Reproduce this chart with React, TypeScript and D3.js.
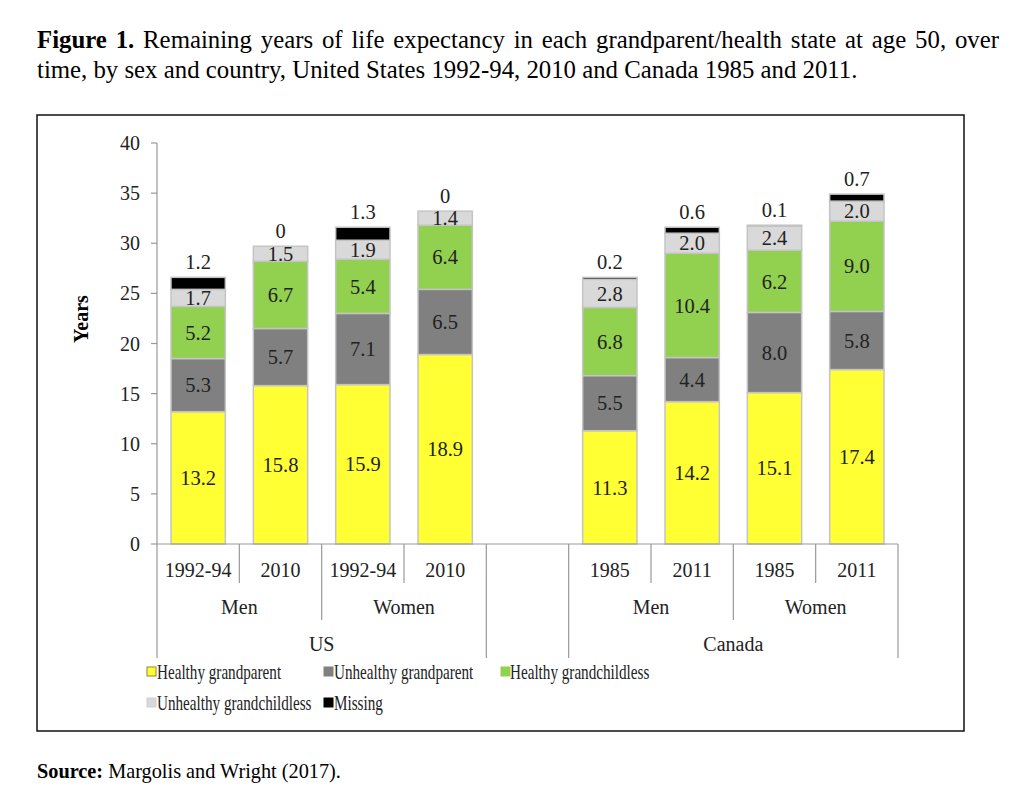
import React, { useLayoutEffect, useRef } from "react";
import * as d3 from "d3";

const categories = [
  "US|Men|1992-94", "US|Men|2010", "US|Women|1992-94", "US|Women|2010",
  "gap",
  "Canada|Men|1985", "Canada|Men|2011", "Canada|Women|1985", "Canada|Women|2011",
];
const seriesNames = [
  "Healthy grandparent", "Unhealthy grandparent", "Healthy grandchildless",
  "Unhealthy grandchildless", "Missing",
];
const healthyGrandparent = [13.2, 15.8, 15.9, 18.9, null, 11.3, 14.2, 15.1, 17.4];
const unhealthyGrandparent = [5.3, 5.7, 7.1, 6.5, null, 5.5, 4.4, 8.0, 5.8];
const healthyGrandchildless = [5.2, 6.7, 5.4, 6.4, null, 6.8, 10.4, 6.2, 9.0];
const unhealthyGrandchildless = [1.7, 1.5, 1.9, 1.4, null, 2.8, 2.0, 2.4, 2.0];
const missing = [1.2, 0, 1.3, 0, null, 0.2, 0.6, 0.1, 0.7];
const yTicks = [0, 5, 10, 15, 20, 25, 30, 35, 40];
const colors = ["#FFFF33", "#808080", "#92D050", "#D9D9D9", "#000000"];
const legendSwatchStroke = ["#8a8a30", "#808080", "#92D050", "#cfcfcf", "#000000"];

const allSeries = [healthyGrandparent, unhealthyGrandparent, healthyGrandchildless, unhealthyGrandchildless, missing];

const FONT = "'Liberation Serif', 'Times New Roman', serif";

export default function App() {
  const titleRef = useRef<SVGTextElement>(null);

  useLayoutEffect(() => {
    const el = titleRef.current;
    if (!el) return;
    el.setAttribute("word-spacing", "0");
    const len = el.getComputedTextLength();
    const text = el.textContent || "";
    const spaces = (text.match(/ /g) || []).length;
    const target = 962;
    if (spaces > 0) el.setAttribute("word-spacing", String((target - len) / spaces));
  }, []);

  const x0 = 157, x1 = 898;
  const x = d3.scaleBand<string>().domain(categories).range([x0, x1]).paddingInner(0.34).paddingOuter(0.17);
  const y = d3.scaleLinear().domain([0, 40]).range([544, 143]);

  const rows = categories.map((c, i) => {
    const r: any = { cat: c };
    seriesNames.forEach((s, k) => (r[s] = allSeries[k][i] ?? 0));
    return r;
  });
  const stack = d3.stack<any>().keys(seriesNames)(rows);

  const step = x.step();
  const boundaries = d3.range(categories.length + 1).map((i) => x0 + i * step);
  const levelOf = (i: number) => {
    if (i === 0 || i === 4 || i === 5 || i === 9) return 2;
    if (i === 2 || i === 7) return 1;
    return 0;
  };
  const lineBottom = [583, 620, 658];
  const yearLabels = categories.map((c) => (c === "gap" ? "" : c.split("|")[2]));
  const sexGroups = [
    { label: "Men", from: 0, to: 2 }, { label: "Women", from: 2, to: 4 },
    { label: "Men", from: 5, to: 7 }, { label: "Women", from: 7, to: 9 },
  ];
  const countryGroups = [{ label: "US", from: 0, to: 4 }, { label: "Canada", from: 5, to: 9 }];

  const legendItems = [
    { k: 0, sx: 147, sy: 672, tx: 157 },
    { k: 1, sx: 324, sy: 672, tx: 334 },
    { k: 2, sx: 501, sy: 672, tx: 510 },
    { k: 3, sx: 147, sy: 703, tx: 157 },
    { k: 4, sx: 324, sy: 703, tx: 334 },
  ];

  return (
    <svg width={1024} height={806} style={{ position: "absolute", left: 0, top: 0, background: "#fff" }} fontFamily={FONT}>
      <rect x={0} y={0} width={1024} height={806} fill="#fff" />
      {/* Title */}
      <text ref={titleRef} x={37} y={48} fontSize={24.8} fill="#000">
        <tspan fontWeight="bold">Figure 1.</tspan> Remaining years of life expectancy in each grandparent/health state at age 50, over
      </text>
      <text x={37} y={78} fontSize={24.8} fill="#000">
        time, by sex and country, United States 1992-94, 2010 and Canada 1985 and 2011.
      </text>

      {/* Frame */}
      <rect x={37} y={115} width={927} height={616} fill="none" stroke="#111" strokeWidth={1.5} />

      {/* Y axis */}
      <line x1={x0} x2={x0} y1={y(40)} y2={y(0)} stroke="#999" strokeWidth={1.2} />
      {yTicks.map((t) => (
        <g key={t}>
          <line x1={x0 - 6} x2={x0} y1={y(t)} y2={y(t)} stroke="#999" strokeWidth={1.2} />
          <text x={140} y={y(t)} dy="0.35em" textAnchor="end" fontSize={20} fill="#222">{t}</text>
        </g>
      ))}
      <text transform={`translate(88,319) rotate(-90)`} textAnchor="middle" fontSize={20} fontWeight="bold" fill="#000">Years</text>

      {/* Bars */}
      {stack.map((layer, k) => (
        <g key={seriesNames[k]}>
          {layer.map((d, i) => {
            if (categories[i] === "gap") return null;
            const v = allSeries[k][i] as number;
            const bx = x(categories[i])!;
            const top = y(d[1]);
            const bot = y(d[0]);
            return (
              <rect key={i} x={bx} y={top} width={x.bandwidth()} height={Math.max(0, bot - top)}
                fill={colors[k]} stroke="#c4c4c4" strokeWidth={v > 0 ? 1.5 : 0} />
            );
          })}
        </g>
      ))}
      {/* Labels */}
      {stack.map((layer, k) => (
        <g key={"l" + k}>
          {layer.map((d, i) => {
            if (categories[i] === "gap") return null;
            const v = allSeries[k][i] as number;
            const cx = x(categories[i])! + x.bandwidth() / 2;
            const label = v === 0 ? "0" : v.toFixed(1);
            if (k === 4) {
              return (
                <text key={i} x={cx} y={y(d[1]) - 8} textAnchor="middle" fontSize={20.5} fill="#222">{label}</text>
              );
            }
            return (
              <text key={i} x={cx} y={y((d[0] + d[1]) / 2)} dy="0.35em" textAnchor="middle" fontSize={20.5} fill="#222">{label}</text>
            );
          })}
        </g>
      ))}

      {/* Category axis */}
      <line x1={x0} x2={x1} y1={y(0)} y2={y(0)} stroke="#999" strokeWidth={1.2} />
      {boundaries.map((bx, i) => (
        <line key={i} x1={bx} x2={bx} y1={y(0)} y2={lineBottom[levelOf(i)]} stroke="#999" strokeWidth={1.2} />
      ))}
      {categories.map((c, i) => (
        <text key={c} x={x(c)! + x.bandwidth() / 2} y={577} textAnchor="middle" fontSize={20} fill="#222">{yearLabels[i]}</text>
      ))}
      {sexGroups.map((g, i) => (
        <text key={i} x={(boundaries[g.from] + boundaries[g.to]) / 2} y={614} textAnchor="middle" fontSize={20} fill="#222">{g.label}</text>
      ))}
      {countryGroups.map((g, i) => (
        <text key={i} x={(boundaries[g.from] + boundaries[g.to]) / 2} y={651} textAnchor="middle" fontSize={20} fill="#222">{g.label}</text>
      ))}

      {/* Legend */}
      {legendItems.map((it) => (
        <g key={it.k}>
          <rect x={it.sx} y={it.sy - 5} width={9} height={9} fill={colors[it.k]} stroke={legendSwatchStroke[it.k]} strokeWidth={1} />
          <g transform={`translate(${it.tx},${it.sy}) scale(0.74,1)`}>
            <text x={0} y={0} dy="0.35em" fontSize={20.5} fill="#222">{seriesNames[it.k]}</text>
          </g>
        </g>
      ))}

      {/* Source */}
      <text x={37} y={778} fontSize={20.3} fill="#000">
        <tspan fontWeight="bold">Source:</tspan> Margolis and Wright (2017).
      </text>
    </svg>
  );
}
